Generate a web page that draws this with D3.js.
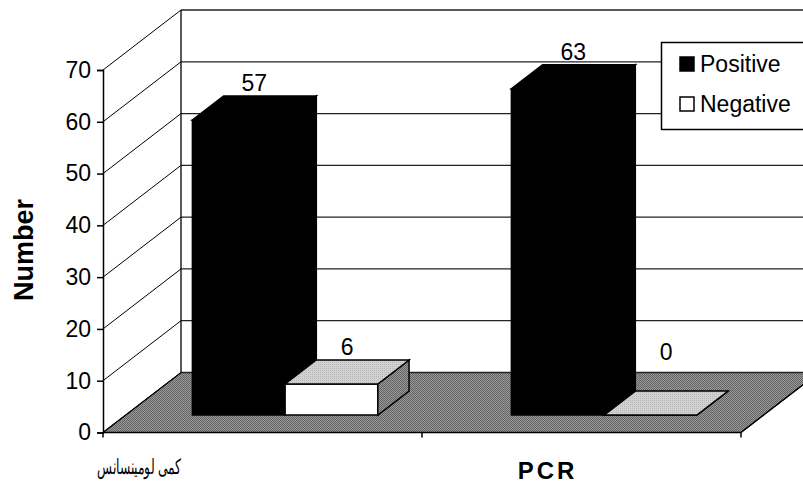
<!DOCTYPE html>
<meta charset="utf-8">
<html>
<head>
	<script src="https://cdn.jsdelivr.net/npm/d3@7/dist/d3.min.js"></script>
	<style>
		body { margin: 0; background: #fff; }
		text { font-family: "Liberation Sans", Arial, sans-serif; fill: #000; }
	</style>
</head>
<body>
	<div id="chart"></div>
	<script>
	// chart values
	var categories = ["كمى لومينسانس", "PCR"];
	var seriesNames = ["Positive", "Negative"];
	var positive = [57, 63];
	var negative = [6, 0];
	var yTicks = [0, 10, 20, 30, 40, 50, 60, 70];

	var svgWidth = 803, svgHeight = 488;
	var DX = 78, DY = 60;          // depth offset of the 3d box
	var zFront = 0.29, zBack = 0.69; // depth of the bars inside the floor

	var svg = d3.select("#chart").append("svg")
		.attr("width", svgWidth)
		.attr("height", svgHeight);

	var x0 = d3.scaleBand()
		.domain(categories)
		.range([103, 741]);

	var x1 = d3.scaleBand()
		.domain(seriesNames)
		.range([0, x0.bandwidth()])
		.paddingInner(0)
		.paddingOuter(0.72);

	var y = d3.scaleLinear()
		.domain([0, 70])
		.range([432.5, 70]);

	function proj(xf, v, z) {
		return [xf + z * DX, y(v) - z * DY];
	}
	function pts(list) {
		return list.map(function(p) { return p.join(","); }).join(" ");
	}

	// fill patterns (dithered greys)
	var defs = svg.append("defs");
	var pat = defs.append("pattern").attr("id", "floorPat")
		.attr("width", 2).attr("height", 2).attr("patternUnits", "userSpaceOnUse");
	pat.append("rect").attr("width", 2).attr("height", 2).attr("fill", "#9a9a9a");
	pat.append("rect").attr("width", 1).attr("height", 1).attr("fill", "#636363");
	pat.append("rect").attr("x", 1).attr("y", 1).attr("width", 1).attr("height", 1).attr("fill", "#636363");

	var pat2 = defs.append("pattern").attr("id", "lightPat")
		.attr("width", 2).attr("height", 2).attr("patternUnits", "userSpaceOnUse");
	pat2.append("rect").attr("width", 2).attr("height", 2).attr("fill", "#d2d2d2");
	pat2.append("rect").attr("width", 1).attr("height", 1).attr("fill", "#b8b8b8");

	var xLeft = x0.range()[0], xRight = x0.range()[1];

	// floor
	svg.append("polygon")
		.attr("points", pts([proj(xLeft, 0, 0), proj(xRight, 0, 0), proj(xRight, 0, 1), proj(xLeft, 0, 1)]))
		.attr("fill", "url(#floorPat)")
		.attr("stroke", "#000")
		.attr("stroke-width", 1.2);

	// back wall gridlines
	svg.append("g").selectAll("line")
		.data(yTicks)
		.enter().append("line")
			.attr("x1", proj(xLeft, 0, 1)[0])
			.attr("x2", svgWidth + 20)
			.attr("y1", function(d) { return proj(xLeft, d, 1)[1]; })
			.attr("y2", function(d) { return proj(xLeft, d, 1)[1]; })
			.attr("stroke", "#222")
			.attr("stroke-width", 1.3);

	// back wall left edge
	svg.append("line")
		.attr("x1", proj(xLeft, 0, 1)[0]).attr("x2", proj(xLeft, 0, 1)[0])
		.attr("y1", proj(xLeft, 0, 1)[1]).attr("y2", proj(xLeft, 70, 1)[1])
		.attr("stroke", "#000").attr("stroke-width", 1.3);

	// side wall gridlines
	svg.append("g").selectAll("line")
		.data(yTicks)
		.enter().append("line")
			.attr("x1", xLeft)
			.attr("y1", function(d) { return y(d); })
			.attr("x2", proj(xLeft, 0, 1)[0])
			.attr("y2", function(d) { return proj(xLeft, d, 1)[1]; })
			.attr("stroke", "#000")
			.attr("stroke-width", 1);

	// right edge of the floor
	svg.append("line")
		.attr("x1", xRight).attr("y1", y(0))
		.attr("x2", proj(xRight, 0, 1)[0]).attr("y2", proj(xRight, 0, 1)[1])
		.attr("stroke", "#000").attr("stroke-width", 1.2);

	// front value axis
	svg.append("g")
		.attr("transform", "translate(" + xLeft + ",0)")
		.call(d3.axisLeft(y).tickValues(yTicks).tickSize(6).tickPadding(6).tickFormat(d3.format("d")))
		.call(function(g) {
			g.select(".domain").attr("stroke", "#000").attr("stroke-width", 1.5);
			g.selectAll(".tick line").attr("stroke", "#000").attr("stroke-width", 1.5);
			g.selectAll(".tick text")
				.attr("font-family", "Liberation Sans, Arial, sans-serif")
				.attr("font-size", 23)
				.attr("fill", "#000");
		});

	// front category axis line with ticks
	svg.append("line")
		.attr("x1", xLeft).attr("x2", xRight)
		.attr("y1", y(0)).attr("y2", y(0))
		.attr("stroke", "#000").attr("stroke-width", 1.5);
	svg.append("g").selectAll("line")
		.data(categories.concat(["end"]))
		.enter().append("line")
			.attr("x1", function(d, i) { return xLeft + i * x0.step(); })
			.attr("x2", function(d, i) { return xLeft + i * x0.step(); })
			.attr("y1", y(0))
			.attr("y2", y(0) + 5)
			.attr("stroke", "#000").attr("stroke-width", 1.5);

	// bars, drawn left to right
	function drawBox(g, xl, xr, v, fills) {
		var faces = [
			{ p: [proj(xl, 0, zFront), proj(xr, 0, zFront), proj(xr, v, zFront), proj(xl, v, zFront)], f: fills.front },
			{ p: [proj(xr, 0, zFront), proj(xr, 0, zBack), proj(xr, v, zBack), proj(xr, v, zFront)], f: fills.side },
			{ p: [proj(xl, v, zFront), proj(xr, v, zFront), proj(xr, v, zBack), proj(xl, v, zBack)], f: fills.top }
		];
		faces.forEach(function(face) {
			g.append("polygon")
				.attr("points", pts(face.p))
				.attr("fill", face.f)
				.attr("stroke", "#000")
				.attr("stroke-width", 1.5)
				.attr("stroke-linejoin", "miter");
		});
	}

	var series = [
		{ name: "Positive", values: positive, fills: { front: "#000", side: "#000", top: "#000" } },
		{ name: "Negative", values: negative, fills: { front: "#fff", side: "url(#floorPat)", top: "url(#lightPat)" } }
	];

	var bars = svg.append("g");
	var labels = svg.append("g");
	categories.forEach(function(c, i) {
		series.forEach(function(s) {
			var xl = x0(c) + x1(s.name);
			var xr = xl + x1.bandwidth();
			var v = s.values[i];
			drawBox(bars, xl, xr, v, s.fills);
			var zMid = (zFront + zBack) / 2;
			labels.append("text")
				.attr("x", (xl + xr) / 2 + zMid * DX)
				.attr("y", y(Math.max(v, 5)) - zMid * DY - 17)
				.attr("text-anchor", "middle")
				.attr("font-size", 23)
				.text(v);
		});
	});

	// legend
	var legend = svg.append("g");
	legend.append("rect")
		.attr("x", 661.5).attr("y", 42.5)
		.attr("width", 160).attr("height", 87)
		.attr("fill", "#fff")
		.attr("stroke", "#000")
		.attr("stroke-width", 1.5);
	seriesNames.forEach(function(name, i) {
		legend.append("rect")
			.attr("x", 680).attr("y", 57 + i * 40)
			.attr("width", 14).attr("height", 14)
			.attr("fill", i === 0 ? "#000" : "#fff")
			.attr("stroke", "#000")
			.attr("stroke-width", 1.5);
		legend.append("text")
			.attr("x", 700).attr("y", 72 + i * 40)
			.attr("font-size", 23)
			.text(name);
	});

	// axis title
	svg.append("text")
		.attr("transform", "translate(33,250) rotate(-90)")
		.attr("text-anchor", "middle")
		.attr("font-size", 27)
		.attr("font-weight", "bold")
		.text("Number");

	// category labels
	svg.append("g").selectAll("text")
		.data(categories)
		.enter().append("text")
			.attr("x", function(d, i) { return i === 0 ? x0(d) - 6 : x0(d) + x0.bandwidth() / 2 - 34; })
			.attr("y", function(d, i) { return i === 0 ? 474 : 479; })
			.attr("text-anchor", function(d, i) { return i === 0 ? "start" : "middle"; })
			.attr("font-family", function(d, i) { return i === 0 ? "DejaVu Sans, sans-serif" : "Liberation Sans, Arial, sans-serif"; })
			.attr("font-size", function(d, i) { return i === 0 ? 21 : 24; })
			.attr("font-weight", function(d, i) { return i === 0 ? "normal" : "bold"; })
			.attr("letter-spacing", function(d, i) { return i === 0 ? 0 : 3; })
			.each(function(d, i) {
				if (i === 0) d3.select(this).attr("textLength", 84).attr("lengthAdjust", "spacingAndGlyphs");
			})
			.text(function(d) { return d; });
	</script>
</body>
</html>
